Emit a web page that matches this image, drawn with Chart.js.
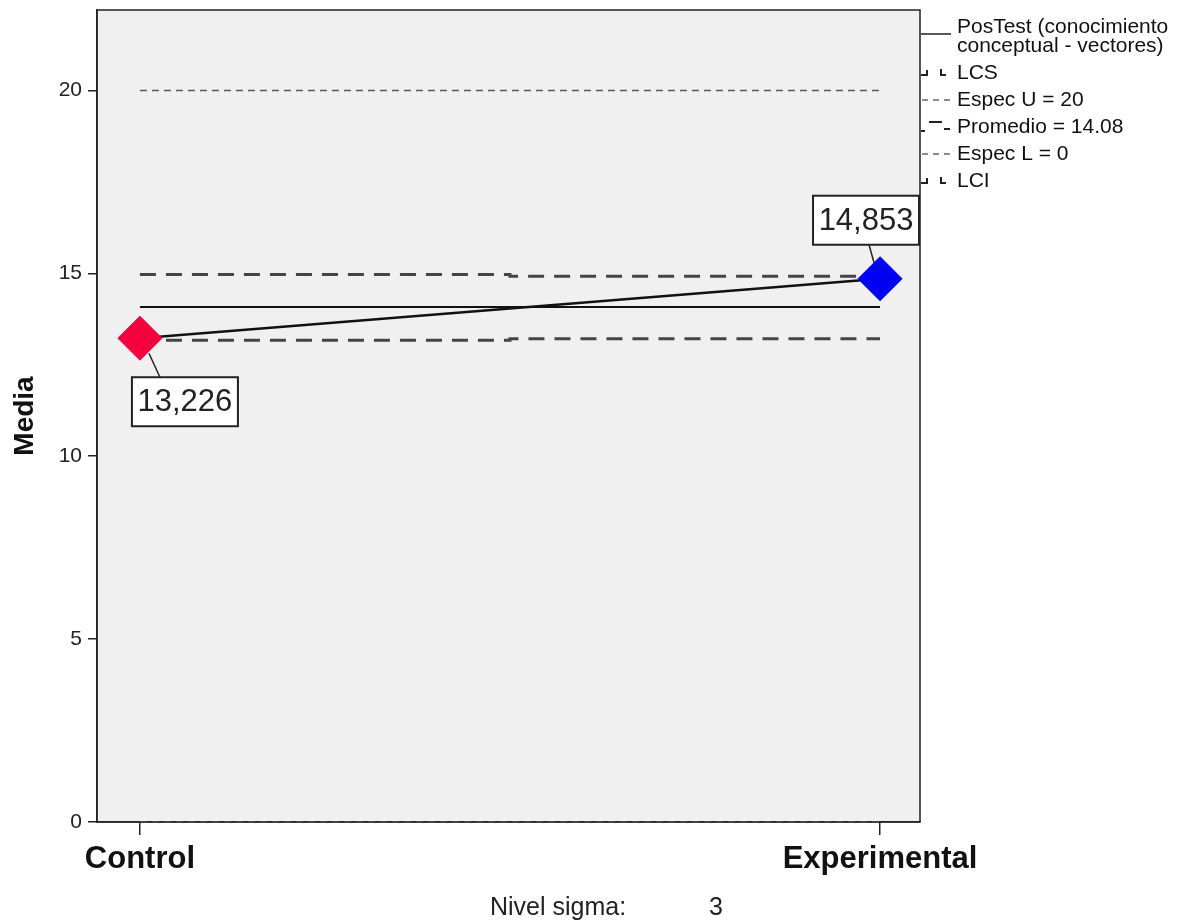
<!DOCTYPE html>
<html>
<head>
<meta charset="utf-8">
<script src="https://cdn.jsdelivr.net/npm/chart.js@4"></script>
<style>
  html, body { margin:0; padding:0; background:#fff; }
  #wrap { width:1189px; height:922px; position:relative; }
</style>
</head>
<body>
<div id="wrap"><canvas id="chart" width="1189" height="922"></canvas></div>
<script>
// data
const categories = ['Control', 'Experimental'];
const groupX = [0, 1];
const means = [13.226, 14.853];
const centerMean = 14.08;
const ucl = [14.97, 14.92];
const lcl = [13.17, 13.21];
const specU = 20;
const specL = 0;
const yTicks = [0, 5, 10, 15, 20];
const pointColors = ['#f5003c', '#0000f5'];
const sigmaLevel = 3;

const FONT = '"Liberation Sans", Arial, sans-serif';

function pts(vals){ return groupX.map((x,i)=>({x, y: vals[i]})); }
function flat(v){ return groupX.map(x=>({x, y:v})); }
function fmt(v){ return v.toFixed(3).replace('.', ','); }

const bgPlugin = {
  id: 'bg',
  beforeDraw(chart){
    const {ctx, chartArea:a} = chart;
    ctx.save();
    ctx.fillStyle = '#fff';
    ctx.fillRect(0,0,chart.width,chart.height);
    ctx.fillStyle = '#f0f0f0';
    ctx.fillRect(a.left, a.top, a.right-a.left, a.bottom-a.top);
    ctx.strokeStyle = '#222';
    ctx.lineWidth = 1.5;
    ctx.strokeRect(a.left, a.top, a.right-a.left, a.bottom-a.top);
    ctx.restore();
  }
};

// boxed value labels with a leader line
const boxLabels = {
  id: 'boxLabels',
  afterDatasetsDraw(chart){
    const {ctx} = chart;
    const meta = chart.getDatasetMeta(0);
    ctx.save();
    ctx.font = '31px ' + FONT;
    ctx.textAlign = 'center';
    ctx.textBaseline = 'middle';
    meta.data.forEach((p, i)=>{
      const below = i === 0;
      const w = 106, h = 49;
      const bx = below ? p.x - 8 : p.x - 67;
      const by = below ? p.y + 39 : p.y - 83;
      ctx.strokeStyle = '#222';
      ctx.lineWidth = 1.5;
      ctx.beginPath();
      if(below){ ctx.moveTo(p.x+9, p.y+15); ctx.lineTo(p.x+20, by); }
      else { ctx.moveTo(p.x-6, p.y-16); ctx.lineTo(p.x-11, by+h); }
      ctx.stroke();
      ctx.fillStyle = '#fff';
      ctx.fillRect(bx, by, w, h);
      ctx.lineWidth = 2;
      ctx.strokeRect(bx, by, w, h);
      ctx.fillStyle = '#222';
      ctx.fillText(fmt(means[i]), bx + w/2, by + h/2 + 1);
    });
    ctx.restore();
  }
};

// legend at the right and the sigma note underneath
const sideLegend = {
  id: 'sideLegend',
  afterDraw(chart){
    const {ctx} = chart;
    const tx = 957;
    ctx.save();
    ctx.font = '21px ' + FONT;
    ctx.fillStyle = '#111';
    ctx.textBaseline = 'middle';
    ctx.fillText('PosTest (conocimiento', tx, 27);
    ctx.fillText('conceptual - vectores)', tx, 46);
    ctx.fillText('LCS', tx, 73);
    ctx.fillText('Espec U = ' + specU, tx, 100);
    ctx.fillText('Promedio = ' + centerMean.toFixed(2), tx, 127);
    ctx.fillText('Espec L = ' + specL, tx, 154);
    ctx.fillText('LCI', tx, 181);

    ctx.strokeStyle = '#222';
    ctx.lineWidth = 1.5;
    ctx.beginPath(); ctx.moveTo(921, 34); ctx.lineTo(951, 34); ctx.stroke();

    [73, 181].forEach(y=>{
      ctx.lineWidth = 2;
      ctx.beginPath(); ctx.moveTo(921, y+2); ctx.lineTo(927, y+2); ctx.lineTo(927, y-3); ctx.stroke();
      ctx.beginPath(); ctx.moveTo(941, y-4); ctx.lineTo(941, y+2); ctx.lineTo(946, y+2); ctx.stroke();
    });

    ctx.lineWidth = 2;
    ctx.beginPath(); ctx.moveTo(921, 131); ctx.lineTo(925, 131); ctx.stroke();
    ctx.beginPath(); ctx.moveTo(929, 122); ctx.lineTo(942, 122); ctx.stroke();
    ctx.beginPath(); ctx.moveTo(944, 129); ctx.lineTo(950, 129); ctx.stroke();

    ctx.strokeStyle = '#666';
    ctx.lineWidth = 1.5;
    [100, 154].forEach(y=>{
      ctx.setLineDash([6,5]);
      ctx.beginPath(); ctx.moveTo(922, y); ctx.lineTo(950, y); ctx.stroke();
    });
    ctx.setLineDash([]);

    ctx.font = '25px ' + FONT;
    ctx.fillStyle = '#222';
    ctx.fillText('Nivel sigma:', 490, 908);
    ctx.fillText(String(sigmaLevel), 709, 908);
    ctx.restore();
  }
};

const limitStyle = { borderColor:'#444', borderWidth:3, borderDash:[16,10], pointRadius:0, fill:false, stepped:'middle' };
const specStyle = { borderColor:'#555', borderWidth:1.5, borderDash:[7,5], pointRadius:0, fill:false };

new Chart(document.getElementById('chart'), {
  type: 'line',
  data: {
    datasets: [
      { label:'PosTest (conocimiento conceptual - vectores)', data: pts(means), borderColor:'#111', borderWidth:2.5,
        pointStyle:'rectRot', pointRadius:22, pointHoverRadius:22, pointBackgroundColor:pointColors,
        pointBorderColor:pointColors, pointBorderWidth:1, order:0 },
      { label:'LCS', data: pts(ucl), ...limitStyle, order:2 },
      { label:'Espec U', data: flat(specU), ...specStyle, order:3 },
      { label:'Promedio', data: flat(centerMean), borderColor:'#111', borderWidth:2, pointRadius:0, order:1 },
      { label:'Espec L', data: flat(specL), ...specStyle, order:3 },
      { label:'LCI', data: pts(lcl), ...limitStyle, order:2 }
    ]
  },
  options: {
    responsive: false,
    animation: false,
    layout: { autoPadding: false, padding: { left:0, right:269, top:10, bottom:0 } },
    plugins: { legend:{ display:false }, tooltip:{ enabled:false } },
    scales: {
      x: {
        type: 'linear', min: -0.058, max: 1.054,
        afterBuildTicks: s => { s.ticks = groupX.map(v=>({value:v})); },
        afterFit: s => { s.height = 100; s.paddingLeft = 0; s.paddingRight = 0; },
        ticks: { callback: v => categories[v] ?? '', autoSkip:false, maxRotation:0, padding:6,
                 color:'#111', font:{ family:FONT, size:31, weight:'bold' } },
        grid: { drawOnChartArea:false, drawTicks:true, tickLength:13, color:'#222', lineWidth:1.5 },
        border: { display:true, color:'#222', width:1.5 }
      },
      y: {
        min: 0, max: 22.2,
        afterBuildTicks: s => { s.ticks = yTicks.map(v=>({value:v})); },
        afterFit: s => { s.width = 97; s.paddingTop = 0; s.paddingBottom = 0; },
        ticks: { padding:6, color:'#222', font:{ family:FONT, size:21 } },
        grid: { drawOnChartArea:false, drawTicks:true, tickLength:9, color:'#222', lineWidth:1.5 },
        border: { display:true, color:'#222', width:1.5 },
        title: { display:true, text:'Media', color:'#111', padding:{ top:8, bottom:0 },
                 font:{ family:FONT, size:28, weight:'bold' } }
      }
    }
  },
  plugins: [bgPlugin, boxLabels, sideLegend]
});
</script>
</body>
</html>
